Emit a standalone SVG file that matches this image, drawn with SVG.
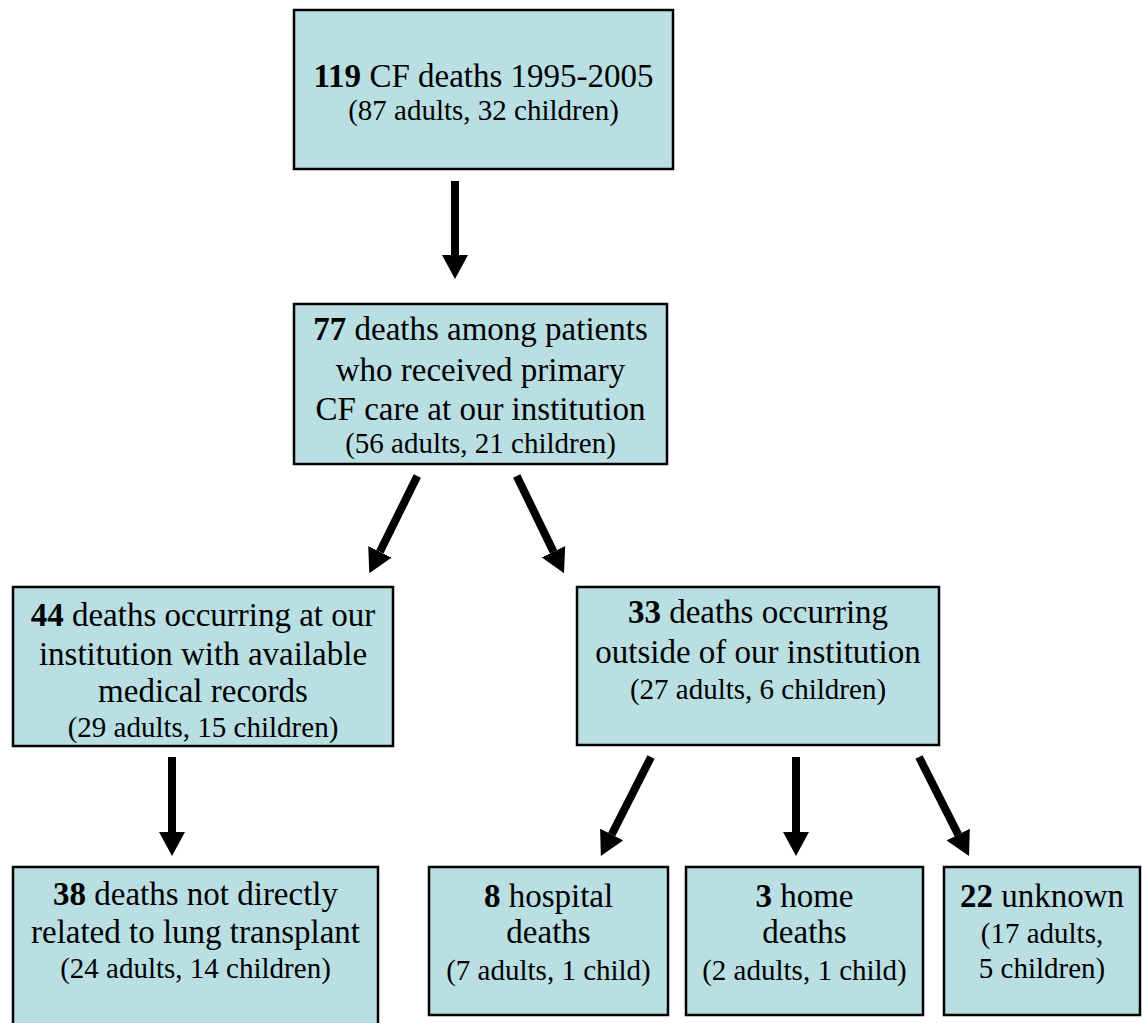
<svg xmlns="http://www.w3.org/2000/svg" width="1142" height="1023" viewBox="0 0 1142 1023">
<style>
.box{fill:#B9DFE3;stroke:#000;stroke-width:2.5}
text{font-family:"Liberation Serif","Times New Roman",serif;fill:#000;text-anchor:middle}
.m{font-size:33px}
.p{font-size:29px}
.b{font-weight:bold}
.arr{stroke:#000;stroke-width:8;fill:none;marker-end:url(#ah)}
</style>
<defs>
<marker id="ah" markerUnits="userSpaceOnUse" markerWidth="24" markerHeight="26" refX="0" refY="13" orient="auto" viewBox="0 0 24 26">
<path d="M0,0 L24,13 L0,26 z" fill="#000"/>
</marker>
</defs>
<g id="n1">
<rect class="box" x="294" y="10" width="379" height="159"/>
<text class="m" x="483.5" y="87"><tspan class="b">119</tspan> CF deaths 1995-2005</text>
<text class="p" x="483.5" y="120">(87 adults, 32 children)</text>
</g>
<g id="n2">
<rect class="box" x="294" y="304" width="373" height="160"/>
<text class="m" x="480.5" y="340"><tspan class="b">77</tspan> deaths among patients</text>
<text class="m" x="480.5" y="381">who received primary</text>
<text class="m" x="480.5" y="420">CF care at our institution</text>
<text class="p" x="480.5" y="453">(56 adults, 21 children)</text>
</g>
<g id="n3">
<rect class="box" x="13" y="587" width="380" height="159"/>
<text class="m" x="203" y="626"><tspan class="b">44</tspan> deaths occurring at our</text>
<text class="m" x="203" y="665">institution with available</text>
<text class="m" x="203" y="702">medical records</text>
<text class="p" x="203" y="737">(29 adults, 15 children)</text>
</g>
<g id="n4">
<rect class="box" x="577" y="587" width="362" height="158"/>
<text class="m" x="758" y="623"><tspan class="b">33</tspan> deaths occurring</text>
<text class="m" x="758" y="663">outside of our institution</text>
<text class="p" x="758" y="699">(27 adults, 6 children)</text>
</g>
<g id="n5">
<rect class="box" x="13" y="867" width="365" height="170"/>
<text class="m" x="195.5" y="905"><tspan class="b">38</tspan> deaths not directly</text>
<text class="m" x="195.5" y="943">related to lung transplant</text>
<text class="p" x="195.5" y="978">(24 adults, 14 children)</text>
</g>
<g id="n6">
<rect class="box" x="429" y="867" width="239" height="148"/>
<text class="m" x="548.5" y="907"><tspan class="b">8</tspan> hospital</text>
<text class="m" x="548.5" y="943">deaths</text>
<text class="p" x="548.5" y="980">(7 adults, 1 child)</text>
</g>
<g id="n7">
<rect class="box" x="686" y="867" width="237" height="148"/>
<text class="m" x="804.5" y="907"><tspan class="b">3</tspan> home</text>
<text class="m" x="804.5" y="943">deaths</text>
<text class="p" x="804.5" y="980">(2 adults, 1 child)</text>
</g>
<g id="n8">
<rect class="box" x="944" y="867" width="196" height="148"/>
<text class="m" x="1042" y="907"><tspan class="b">22</tspan> unknown</text>
<text class="p" x="1042" y="943">(17 adults,</text>
<text class="p" x="1042" y="978">5 children)</text>
</g>
<g id="connectors">
<line class="arr" x1="455" y1="181" x2="455" y2="255"/>
<line class="arr" x1="417.3" y1="476" x2="379.9" y2="551.8"/>
<line class="arr" x1="516.7" y1="476" x2="553.5" y2="551.7"/>
<line class="arr" x1="172" y1="757" x2="172" y2="832"/>
<line class="arr" x1="651" y1="757" x2="611.7" y2="834.5"/>
<line class="arr" x1="796" y1="757" x2="796" y2="832"/>
<line class="arr" x1="919" y1="757" x2="958.2" y2="834.6"/>
</g>
</svg>
